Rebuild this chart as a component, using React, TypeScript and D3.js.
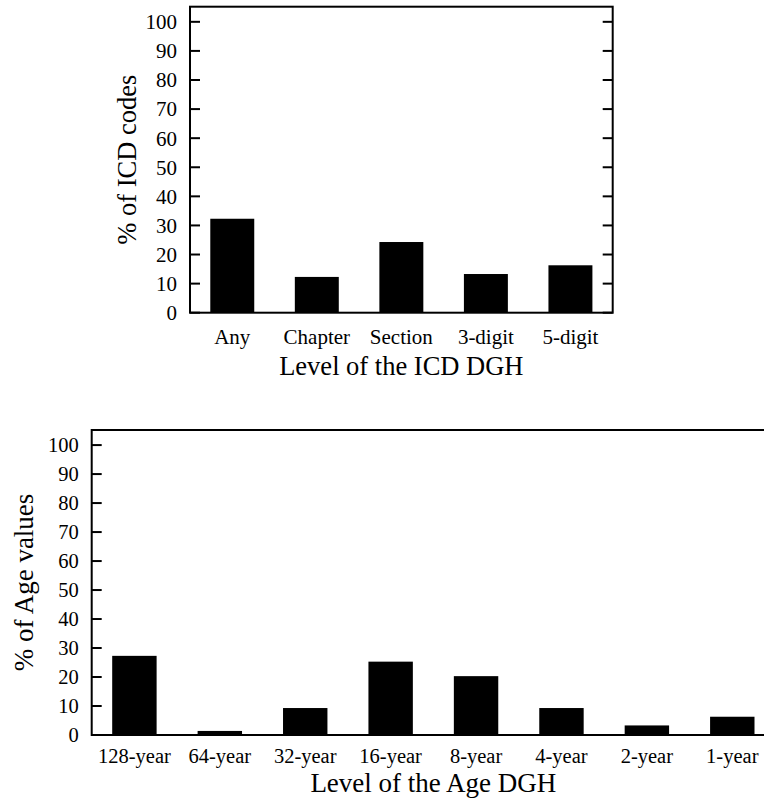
import React from 'react';
import * as d3 from 'd3';

// ICD panel
const icdLevels = ['Any', 'Chapter', 'Section', '3-digit', '5-digit'];
const icdPercent = [32.3, 12.3, 24.3, 13.3, 16.3];

// Age panel
const ageLevels = ['128-year', '64-year', '32-year', '16-year', '8-year', '4-year', '2-year', '1-year'];
const agePercent = [27.3, 1.4, 9.3, 25.3, 20.3, 9.3, 3.3, 6.3];

const yTicks = [0, 10, 20, 30, 40, 50, 60, 70, 80, 90, 100];

const FONT = 'Liberation Serif, Times New Roman, Times, DejaVu Serif, serif';

function BarPanel(props) {
    const {
        categories, values, left, right, top, bottom,
        yLabel, xTitle, yLabelX, tickFont, labelDy, titleDy, titleFont,
    } = props;

    const xScale = d3.scaleBand()
        .domain(categories)
        .range([left, right])
        .paddingInner(0.48)
        .paddingOuter(0.24);
    const yScale = d3.scaleLinear().domain([0, 105.2]).range([bottom, top]);
    const tickLen = 10;

    return (
        <g style={{ fontFamily: FONT }}>
            {values.map((v, i) => (
                <rect key={categories[i]}
                    x={xScale(categories[i])}
                    y={yScale(v)}
                    width={xScale.bandwidth()}
                    height={yScale(0) - yScale(v)}
                    fill="#000" />
            ))}

            {yTicks.map(t => (
                <g key={t}>
                    <line x1={left} x2={left + tickLen} y1={yScale(t)} y2={yScale(t)} stroke="#000" strokeWidth={2} />
                    <line x1={right} x2={right - tickLen} y1={yScale(t)} y2={yScale(t)} stroke="#000" strokeWidth={2} />
                    <text x={left - 13} y={yScale(t)} dy="0.35em" textAnchor="end"
                        fontSize={tickFont}>{t}</text>
                </g>
            ))}

            <rect x={left} y={top} width={right - left} height={bottom - top}
                fill="none" stroke="#000" strokeWidth={2} />

            {categories.map(c => (
                <text key={c} x={xScale(c) + xScale.bandwidth() / 2} y={bottom + labelDy}
                    textAnchor="middle" fontSize={tickFont}>{c}</text>
            ))}

            <text x={(left + right) / 2} y={bottom + titleDy} textAnchor="middle"
                fontSize={titleFont}>{xTitle}</text>

            <text transform={`translate(${yLabelX},${(top + bottom) / 2}) rotate(-90)`}
                textAnchor="middle" dy="0.35em" fontSize={titleFont}>{yLabel}</text>
        </g>
    );
}

export default function App() {
    return (
        <svg width={764} height={802} style={{ position: 'absolute', left: 0, top: 0, background: '#fff' }}>
            <BarPanel
                categories={icdLevels} values={icdPercent}
                left={190} right={612.7} top={6.7} bottom={312.7}
                yLabel="% of ICD codes" xTitle="Level of the ICD DGH"
                yLabelX={127} tickFont={21} labelDy={31} titleDy={62} titleFont={26.5} />
            <BarPanel
                categories={ageLevels} values={agePercent}
                left={91.7} right={775} top={430} bottom={735}
                yLabel="% of Age values" xTitle="Level of the Age DGH"
                yLabelX={23.3} tickFont={20.5} labelDy={27.7} titleDy={56.7} titleFont={27} />
        </svg>
    );
}
